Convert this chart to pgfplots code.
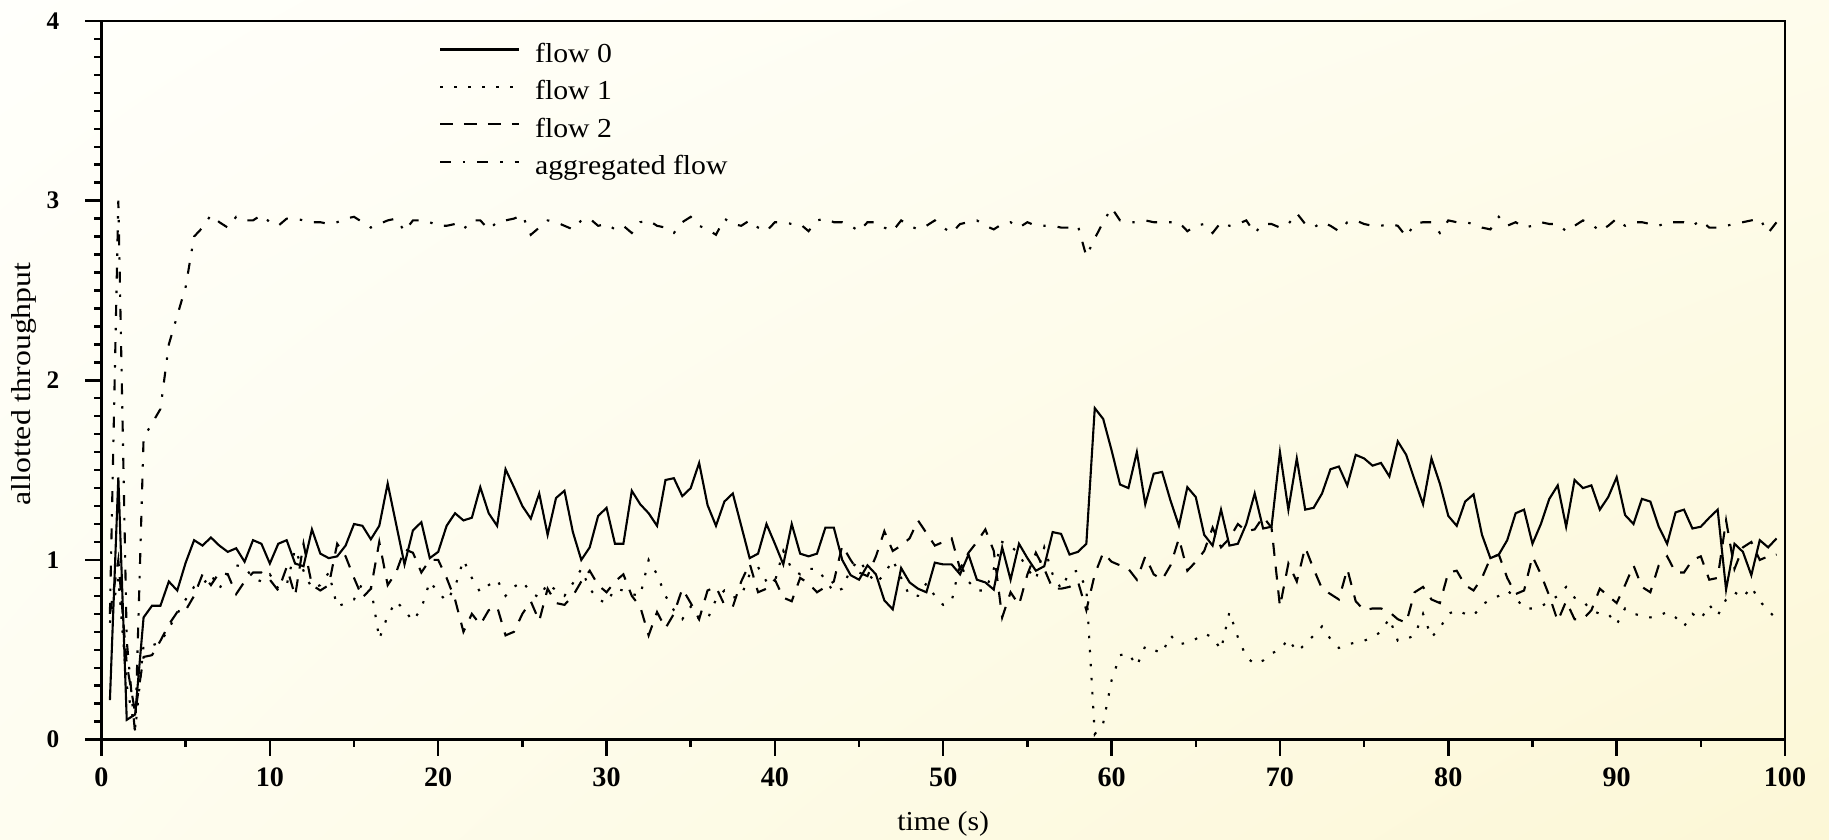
\documentclass[border=0pt]{standalone}
\usepackage{fontspec}
\setmainfont{Liberation Serif}
\usepackage{pgfplots}
\pgfplotsset{compat=1.18}
\usepackage{pgfplotstable}
\usetikzlibrary{shadings}
\definecolor{bgUL}{RGB}{255,255,251}
\definecolor{bgUR}{RGB}{254,252,236}
\definecolor{bgLL}{RGB}{254,253,240}
\definecolor{bgLR}{RGB}{252,247,214}
\newcommand\fs{\fontsize{7.8pt}{9pt}\selectfont}
\newcommand\fst{\fontsize{8pt}{9pt}\selectfont\bfseries}
\newcommand\fsty{\fontsize{7.2pt}{9pt}\selectfont\bfseries}
\newcommand\hs[1]{\scalebox{1.085}[1]{#1}}

\pgfplotstableread{
t f0 f1 f2 agg
0.5 0.22 0.65 0.70 0.70
1.0 1.46 0.90 1.00 3.00
1.5 0.11 0.30 0.42 0.55
2.0 0.14 0.05 0.15 0.03
2.5 0.68 0.525 0.46 1.68
3.0 0.745 0.525 0.47 1.76
3.5 0.745 0.54 0.55 1.84
4.0 0.88 0.62 0.64 2.20
4.5 0.83 0.70 0.71 2.36
5.0 0.985 0.78 0.72 2.52
5.5 1.11 0.85 0.80 2.80
6.0 1.08 0.86 0.92 2.85
6.5 1.125 0.92 0.86 2.92
7.0 1.08 0.84 0.93 2.88
7.5 1.045 0.92 0.92 2.85
8.0 1.065 0.97 0.81 2.91
8.5 0.99 0.96 0.88 2.89
9.0 1.11 0.90 0.93 2.89
9.5 1.09 0.88 0.93 2.92
10.0 0.98 0.92 0.89 2.88
10.5 1.09 0.84 0.83 2.86
11.0 1.11 0.86 0.96 2.90
11.5 0.98 1.06 0.80 2.90
12.0 0.965 0.94 1.09 2.89
12.5 1.17 0.84 0.86 2.88
13.0 1.035 0.86 0.83 2.88
13.5 1.01 0.93 0.86 2.87
14.0 1.02 0.74 1.09 2.88
14.5 1.08 0.76 1.02 2.90
15.0 1.20 0.78 0.90 2.91
15.5 1.19 0.87 0.79 2.88
16.0 1.115 0.85 0.84 2.85
16.5 1.19 0.56 1.10 2.87
17.0 1.425 0.69 0.86 2.89
17.5 1.20 0.77 0.93 2.90
18.0 0.975 0.72 1.06 2.83
18.5 1.165 0.66 1.04 2.89
19.0 1.21 0.73 0.93 2.89
19.5 1.01 0.88 1.00 2.88
20.0 1.045 0.82 1.00 2.86
20.5 1.19 0.77 0.90 2.86
21.0 1.26 0.85 0.78 2.87
21.5 1.22 1.00 0.60 2.84
22.0 1.235 0.90 0.70 2.89
22.5 1.405 0.82 0.64 2.89
23.0 1.26 0.86 0.72 2.84
23.5 1.19 0.89 0.74 2.88
24.0 1.505 0.80 0.58 2.89
24.5 1.405 0.85 0.60 2.90
25.0 1.30 0.88 0.70 2.92
25.5 1.23 0.82 0.77 2.81
26.0 1.37 0.79 0.66 2.85
26.5 1.14 0.87 0.84 2.89
27.0 1.345 0.83 0.76 2.88
27.5 1.385 0.80 0.75 2.86
28.0 1.155 0.87 0.80 2.84
28.5 1.00 0.95 0.88 2.89
29.0 1.07 0.84 0.94 2.90
29.5 1.245 0.78 0.86 2.86
30.0 1.29 0.76 0.82 2.87
30.5 1.09 0.84 0.88 2.84
31.0 1.09 0.83 0.92 2.86
31.5 1.385 0.81 0.80 2.82
32.0 1.31 0.80 0.74 2.88
32.5 1.26 1.00 0.58 2.89
33.0 1.19 0.92 0.71 2.86
33.5 1.445 0.80 0.62 2.85
34.0 1.455 0.72 0.70 2.82
34.5 1.355 0.67 0.84 2.88
35.0 1.40 0.74 0.76 2.91
35.5 1.54 0.67 0.67 2.86
36.0 1.305 0.67 0.83 2.84
36.5 1.19 0.78 0.85 2.81
37.0 1.325 0.83 0.75 2.90
37.5 1.37 0.79 0.74 2.87
38.0 1.19 0.80 0.88 2.86
38.5 1.01 0.92 0.98 2.89
39.0 1.035 0.96 0.82 2.85
39.5 1.20 0.88 0.84 2.83
40.0 1.09 0.88 0.89 2.88
40.5 0.975 1.05 0.79 2.88
41.0 1.20 0.95 0.77 2.87
41.5 1.035 0.92 0.90 2.87
42.0 1.02 0.95 0.87 2.83
42.5 1.035 0.95 0.82 2.89
43.0 1.18 0.89 0.85 2.90
43.5 1.18 0.82 0.88 2.88
44.0 1.00 0.84 1.08 2.88
44.5 0.915 0.95 1.00 2.86
45.0 0.89 1.00 0.93 2.83
45.5 0.97 0.93 0.91 2.88
46.0 0.92 0.87 1.02 2.88
46.5 0.775 0.92 1.16 2.85
47.0 0.725 1.00 1.05 2.83
47.5 0.955 0.90 1.08 2.89
48.0 0.875 0.80 1.12 2.86
48.5 0.84 0.80 1.22 2.84
49.0 0.82 0.87 1.15 2.86
49.5 0.985 0.80 1.08 2.89
50.0 0.975 0.75 1.10 2.85
50.5 0.975 0.77 1.12 2.82
51.0 0.92 0.98 0.95 2.87
51.5 1.03 0.88 1.04 2.88
52.0 0.89 0.83 1.10 2.89
52.5 0.875 0.83 1.17 2.86
53.0 0.835 0.95 1.05 2.84
53.5 1.07 1.10 0.68 2.87
54.0 0.89 1.08 0.82 2.88
54.5 1.09 1.03 0.75 2.85
55.0 1.01 0.95 0.92 2.88
55.5 0.94 0.89 1.04 2.86
56.0 0.965 1.07 0.95 2.86
56.5 1.155 0.92 0.84 2.86
57.0 1.145 0.84 0.84 2.85
57.5 1.03 0.93 0.85 2.85
58.0 1.045 0.94 0.88 2.86
58.5 1.09 0.84 0.72 2.69
59.0 1.845 0.03 0.92 2.79
59.5 1.785 0.09 1.04 2.88
60.0 1.61 0.33 0.99 2.96
60.5 1.42 0.47 0.97 2.89
61.0 1.40 0.48 0.95 2.88
61.5 1.60 0.41 0.89 2.88
62.0 1.31 0.52 1.02 2.89
62.5 1.48 0.50 0.92 2.88
63.0 1.49 0.48 0.89 2.88
63.5 1.33 0.58 0.97 2.88
64.0 1.19 0.53 1.12 2.88
64.5 1.405 0.54 0.94 2.83
65.0 1.35 0.56 0.99 2.86
65.5 1.14 0.59 1.05 2.87
66.0 1.08 0.57 1.18 2.82
66.5 1.28 0.50 1.07 2.88
67.0 1.08 0.71 1.12 2.86
67.5 1.09 0.57 1.20 2.87
68.0 1.20 0.46 1.16 2.89
68.5 1.37 0.42 1.17 2.82
69.0 1.175 0.44 1.24 2.87
69.5 1.185 0.48 1.18 2.87
70.0 1.60 0.50 0.74 2.85
70.5 1.28 0.56 0.98 2.87
71.0 1.565 0.49 0.88 2.93
71.5 1.28 0.53 1.07 2.87
72.0 1.29 0.58 0.95 2.85
72.5 1.37 0.63 0.84 2.88
73.0 1.505 0.56 0.81 2.86
73.5 1.52 0.51 0.78 2.83
74.0 1.415 0.53 0.95 2.88
74.5 1.585 0.54 0.77 2.89
75.0 1.565 0.55 0.72 2.87
75.5 1.525 0.57 0.73 2.86
76.0 1.54 0.60 0.73 2.86
76.5 1.465 0.675 0.71 2.87
77.0 1.66 0.55 0.67 2.86
77.5 1.585 0.56 0.65 2.80
78.0 1.445 0.58 0.82 2.87
78.5 1.31 0.70 0.85 2.88
79.0 1.565 0.57 0.78 2.88
79.5 1.425 0.62 0.76 2.82
80.0 1.245 0.70 0.93 2.89
80.5 1.19 0.72 0.94 2.88
81.0 1.325 0.70 0.86 2.88
81.5 1.365 0.69 0.83 2.87
82.0 1.14 0.75 0.90 2.85
82.5 1.01 0.78 1.01 2.84
83.0 1.03 0.80 1.03 2.91
83.5 1.11 0.83 0.90 2.86
84.0 1.26 0.79 0.81 2.88
84.5 1.28 0.73 0.83 2.85
85.0 1.09 0.73 1.02 2.86
85.5 1.20 0.74 0.92 2.88
86.0 1.34 0.77 0.80 2.87
86.5 1.415 0.80 0.66 2.87
87.0 1.185 0.85 0.77 2.83
87.5 1.445 0.79 0.67 2.86
88.0 1.40 0.77 0.67 2.89
88.5 1.415 0.72 0.72 2.87
89.0 1.28 0.70 0.84 2.83
89.5 1.35 0.70 0.80 2.86
90.0 1.46 0.64 0.76 2.90
90.5 1.25 0.73 0.86 2.86
91.0 1.20 0.70 0.97 2.88
91.5 1.34 0.69 0.85 2.88
92.0 1.325 0.68 0.82 2.87
92.5 1.185 0.69 0.97 2.86
93.0 1.09 0.71 1.02 2.88
93.5 1.265 0.68 0.93 2.88
94.0 1.28 0.63 0.93 2.88
94.5 1.175 0.70 1.00 2.86
95.0 1.185 0.67 1.02 2.89
95.5 1.235 0.75 0.89 2.85
96.0 1.28 0.69 0.90 2.85
96.5 0.835 0.78 1.22 2.86
97.0 1.09 0.82 0.95 2.87
97.5 1.045 0.79 1.07 2.88
98.0 0.915 0.85 1.10 2.89
98.5 1.11 0.77 1.00 2.90
99.0 1.07 0.72 1.02 2.82
99.5 1.12 0.67 1.03 2.88
}\flows

\begin{document}
\begin{tikzpicture}[x=1cm,y=1cm]
\useasboundingbox (0,0) rectangle (18.29,8.40);
\shade[upper left=bgUL, upper right=bgUR, lower left=bgLL, lower right=bgLR] (0,0) rectangle (18.29,8.40);
\begin{axis}[
  at={(1.015cm,1.004cm)}, anchor=south west,
  scale only axis, width=16.835cm, height=7.186cm,
  xmin=0, xmax=100, ymin=0, ymax=4,
  xtick={0,10,...,100}, ytick={0,1,2,3,4},
  minor x tick num=1, minor y tick num=9,
  tick pos=left, tick align=outside,
  major tick length=0.16cm, minor tick length=0.07cm,
  every tick/.style={line width=0.7pt, black},
  axis line style={line width=0.75pt},
  /pgf/number format/assume math mode=true,
  xticklabel style={font=\fst},
  yticklabel style={font=\fsty, anchor=east, inner sep=0pt, xshift=-0.255cm},
  xlabel={\hs{time (s)}}, ylabel={\scalebox{1.16}[1]{allotted throughput}},
  label style={font=\fs},
  xlabel style={at={(axis description cs:0.5,-0.1265)}, anchor=base},
  ylabel style={at={(axis description cs:-0.0422,0.4949)}, anchor=base},
  legend cell align=left,
  legend image code/.code={\draw[#1] (0cm,0.065cm) -- (0.79cm,0.065cm);},
  legend style={at={(axis description cs:0.2005,0.970)}, anchor=north west,
    draw=none, fill=none, font=\fs, inner sep=0pt, outer sep=0pt,
    row sep=0.104cm, column sep=0.15cm,
    nodes={inner sep=0pt, text height=0.2cm, text depth=0.07cm}},
  every axis plot/.append style={line width=0.6pt, black},
]
\addplot[solid] table[x=t, y=f0] {\flows};
\addlegendentry{\hs{flow 0}}
\addplot[dash pattern=on 0.7pt off 3.3pt] table[x=t, y=f1] {\flows};
\addlegendentry{\hs{flow 1}}
\addplot[dash pattern=on 3.7pt off 3.1pt] table[x=t, y=f2] {\flows};
\addlegendentry{\hs{flow 2}}
\addplot[dash pattern=on 3.1pt off 3.4pt on 0.7pt off 3.4pt] table[x=t, y=agg] {\flows};
\addlegendentry{\hs{aggregated flow}}
\end{axis}
\end{tikzpicture}
\end{document}
